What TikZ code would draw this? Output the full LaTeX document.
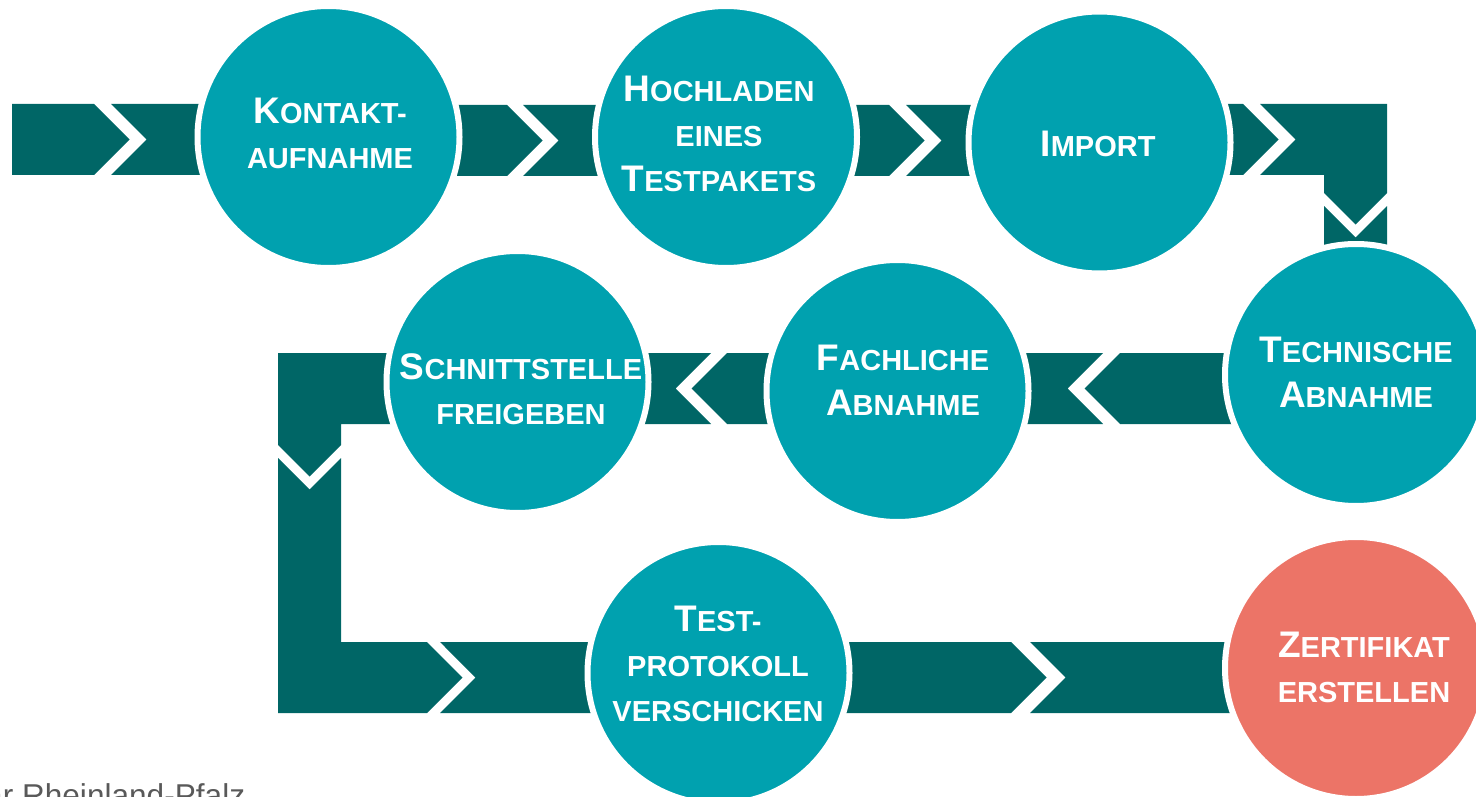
\documentclass[tikz,border=0pt]{standalone}
\usepackage{fontspec}
\setmainfont{Liberation Sans}
\definecolor{bandcol}{RGB}{0,102,102}
\definecolor{disccol}{RGB}{0,161,175}
\definecolor{salmoncol}{RGB}{236,116,103}
\definecolor{notecol}{RGB}{89,89,89}
\newcommand\Ini[1]{{\fontsize{37}{45}\selectfont #1}}
\tikzset{
  disc/.style={circle, fill=disccol, draw=white, line width=6pt, minimum size=262pt, inner sep=0pt},
  stepname/.style={text=white, font=\bfseries\fontsize{29}{45}\selectfont, align=center, inner sep=0pt},
  bandpiece/.style={fill=bandcol}
}
\begin{document}
\begin{tikzpicture}[x=1pt,y=-1pt]
\useasboundingbox (0,0) rectangle (1476,797);
\clip (0,0) rectangle (1476,797);
% row 1
\fill[bandpiece] (12,104) -- (94,104) -- (129.5,139.5) -- (94,175) -- (12,175) -- cycle;
\fill[bandpiece] (111,104) -- (330,104) -- (330,175) -- (111,175) -- (146.5,139.5) -- cycle;
\fill[bandpiece] (330,105) -- (507,105) -- (542.5,140.5) -- (507,176) -- (330,176) -- cycle;
\fill[bandpiece] (523,105) -- (726,105) -- (726,176) -- (523,176) -- (558.5,140.5) -- cycle;
\fill[bandpiece] (726,105) -- (889,105) -- (924.5,140.5) -- (889,176) -- (726,176) -- cycle;
\fill[bandpiece] (906,105) -- (1100,105) -- (1100,176) -- (906,176) -- (941.5,140.5) -- cycle;
\fill[bandpiece] (1100,104) -- (1243,104) -- (1278.5,139.5) -- (1243,175) -- (1100,175) -- cycle;
\fill[bandpiece] (1260,104) -- (1387,104) -- (1387,193) -- (1355.5,224.5) -- (1324,193) -- (1324,175) -- (1260,175) -- (1295.5,139.5) -- cycle;
\fill[bandpiece] (1324,206) -- (1355.5,237.5) -- (1387,206) -- (1387,375) -- (1324,375) -- cycle;
% row 2
\fill[bandpiece] (1356,353) -- (1120,353) -- (1084.5,388.5) -- (1120,424) -- (1356,424) -- cycle;
\fill[bandpiece] (900,353) -- (1103,353) -- (1067.5,388.5) -- (1103,424) -- (900,424) -- cycle;
\fill[bandpiece] (900,353) -- (727,353) -- (691.5,388.5) -- (727,424) -- (900,424) -- cycle;
\fill[bandpiece] (517,353) -- (711,353) -- (675.5,388.5) -- (711,424) -- (517,424) -- cycle;
\fill[bandpiece] (517,353) -- (278,353) -- (278,445) -- (309.5,476.5) -- (341,445) -- (341,424) -- (517,424) -- cycle;
% column and row 3
\fill[bandpiece] (278,458) -- (309.5,489.5) -- (341,458) -- (341,642) -- (427,642) -- (462.5,677.5) -- (427,713) -- (278,713) -- cycle;
\fill[bandpiece] (440,642) -- (718,642) -- (718,713) -- (440,713) -- (475.5,677.5) -- cycle;
\fill[bandpiece] (718,642) -- (1011,642) -- (1046.5,677.5) -- (1011,713) -- (718,713) -- cycle;
\fill[bandpiece] (1030,642) -- (1356,642) -- (1356,713) -- (1030,713) -- (1065.5,677.5) -- cycle;
% circles
\node[disc] (c1) at (328.5,137) {};
\node[disc] (c2) at (726,137) {};
\node[disc] (c3) at (1099.5,142.5) {};
\node[disc] (c4) at (1356,375) {};
\node[disc] (c5) at (897.5,391) {};
\node[disc] (c6) at (517.5,382) {};
\node[disc] (c7) at (718.5,673) {};
\node[disc, fill=salmoncol] (c8) at (1356,668) {};
% texts
\node[stepname] (t1) at (330,133) {\Ini{K}ONTAKT-\\AUFNAHME};
\node[stepname] (t2) at (719,133.5) {\Ini{H}OCHLADEN\\EINES\\\Ini{T}ESTPAKETS};
\node[stepname] (t3) at (1098,144) {\Ini{I}MPORT};
\node[stepname] (t4) at (1356,372) {\Ini{T}ECHNISCHE\\\Ini{A}BNAHME};
\node[stepname] (t5) at (903,380) {\Ini{F}ACHLICHE\\\Ini{A}BNAHME};
\node[stepname] (t6) at (521,389) {\Ini{S}CHNITTSTELLE\\FREIGEBEN};
\node[stepname] (t7) at (718,664) {\Ini{T}EST-\\PROTOKOLL\\VERSCHICKEN};
\node[stepname] (t8) at (1364,667) {\Ini{Z}ERTIFIKAT\\ERSTELLEN};
\node[anchor=base west, inner sep=0pt, text=notecol, font=\fontsize{31.6}{36}\selectfont] (src) at (-15,806) {ar Rheinland-Pfalz};
\end{tikzpicture}
\end{document}
